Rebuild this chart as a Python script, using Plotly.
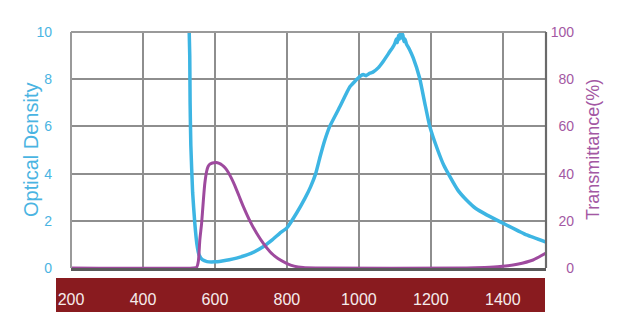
import plotly.graph_objects as go

# Optical density (left axis)
od_nm = [527, 530, 531, 533, 538, 544, 550, 556, 565, 578, 600, 620, 640, 660, 700, 734, 760,
         780, 800, 827, 850, 866, 880, 892, 905, 919, 947, 975, 1003, 1012, 1020, 1030, 1039,
         1055, 1067, 1086, 1094, 1100, 1104, 1107, 1110, 1113, 1116, 1119, 1122, 1125, 1128,
         1132, 1141, 1151, 1169, 1183, 1197, 1219, 1236, 1253, 1275, 1299, 1325, 1355, 1400, 1466, 1520]
od_val = [11.0, 9.0, 7.0, 5.2, 3.2, 1.9, 1.0, 0.55, 0.35, 0.27, 0.26, 0.3, 0.35, 0.42, 0.62, 0.9, 1.2,
          1.47, 1.7, 2.33, 2.95, 3.45, 4.0, 4.7, 5.4, 6.0, 6.83, 7.68, 8.12, 8.2, 8.15, 8.25, 8.3,
          8.5, 8.74, 9.17, 9.35, 9.52, 9.7, 9.55, 9.85, 9.7, 10.0, 9.75, 9.9, 9.6, 9.7,
          9.5, 9.25, 8.9, 8.04, 7.0, 6.0, 5.0, 4.35, 3.87, 3.3, 2.88, 2.52, 2.25, 1.9, 1.4, 1.1]

# Transmittance (right axis)
tr_nm = [200, 540, 549, 554, 558, 563, 568, 572, 577, 581, 586, 593, 603, 612, 620, 628, 636, 645,
         655, 667, 679, 697, 716, 735, 753, 775, 799, 820, 845, 880, 1300, 1350, 1392, 1440, 1484, 1520]
tr_val = [0, 0, 0.3, 3, 11.9, 19, 29, 36, 41, 43, 44, 44.5, 44.7, 44.3, 43.6, 42.5, 40.8, 38.3,
          35, 30.5, 26, 20, 14.7, 10.3, 6.9, 4, 2, 0.8, 0.2, 0, 0, 0.2, 0.6, 1.6, 3.4, 6.3]

x_ticks = [200, 400, 600, 800, 1000, 1200, 1400]
od_ticks = [0, 2, 4, 6, 8, 10]
tr_ticks = [0, 20, 40, 60, 80, 100]

BLUE = "#3db5e3"
PURPLE = "#9e4a9e"
BLUE_TXT = "#4ab4e2"
PURPLE_TXT = "#a358a3"

fig = go.Figure()
fig.add_trace(go.Scatter(x=od_nm, y=od_val, mode="lines",
                         line=dict(color=BLUE, width=3.5, shape="spline", smoothing=0.4),
                         yaxis="y", showlegend=False))
fig.add_trace(go.Scatter(x=tr_nm, y=tr_val, mode="lines",
                         line=dict(color=PURPLE, width=3, shape="spline", smoothing=0.5),
                         yaxis="y2", showlegend=False))

L, R, T, B = 71, 40, 32, 60
W, H = 619, 328
pw = W - L - R
xdom = 475 / pw

fig.update_layout(
    width=W, height=H,
    margin=dict(l=L, r=R, t=T, b=B, pad=0),
    paper_bgcolor="white", plot_bgcolor="white",
    font=dict(family="Liberation Sans, Arial, sans-serif"),
    xaxis=dict(domain=[0, xdom], range=[200, 1520], tickvals=x_ticks,
               showgrid=True, gridcolor="#8e8e8e", gridwidth=1.6,
               zeroline=False, showline=True, linecolor="#5a5a5a", linewidth=2.5,
               ticks="", ticklabelstandoff=15,
               tickfont=dict(family="Liberation Sans Narrow, Arial Narrow, sans-serif",
                             size=16, color="#f6ecec")),
    yaxis=dict(range=[0, 10], tickvals=od_ticks, side="left", anchor="x",
               showgrid=True, gridcolor="#8e8e8e", gridwidth=1.6,
               zeroline=False, showline=False, ticks="", ticklabelstandoff=18,
               tickfont=dict(size=14, color=BLUE_TXT)),
    yaxis2=dict(range=[0, 100], tickvals=tr_ticks, overlaying="y", side="left",
                anchor="free", position=(576 - L) / pw,
                showgrid=False, zeroline=False, showline=False, ticks="",
                ticklabelstandoff=2,
                tickfont=dict(size=14, color=PURPLE_TXT)),
)

# dark red band behind the x tick labels
fig.add_shape(type="rect", xref="x domain", yref="y domain",
              x0=(56 - L) / 475, x1=(545 - L) / 475,
              y0=(268 - 312) / 236, y1=(268 - 278) / 236,
              fillcolor="#891b1f", line=dict(width=0), layer="below")

# plot frame
frame = [
    (0, 0, 0, 1, "#9a9a9a", 2),
    (0, 1, 1, 1, "#9a9a9a", 2),
    (1, 0, 1, 1, "#6a6a6a", 2.2),
]
for x0, y0, x1, y1, c, w in frame:
    fig.add_shape(type="line", xref="x domain", yref="y domain",
                  x0=x0, y0=y0, x1=x1, y1=y1, line=dict(color=c, width=w), layer="above")

fig.add_annotation(text="Optical Density", xref="paper", yref="paper",
                   x=(31 - L) / pw, y=(268 - 150) / 236, textangle=-90,
                   showarrow=False, font=dict(size=20, color=BLUE_TXT),
                   xanchor="center", yanchor="middle")
fig.add_annotation(text="Transmittance(%)", xref="paper", yref="paper",
                   x=(593 - L) / pw, y=(268 - 150) / 236, textangle=-90,
                   showarrow=False, font=dict(size=18, color=PURPLE_TXT),
                   xanchor="center", yanchor="middle")

fig.write_html("out.html")
